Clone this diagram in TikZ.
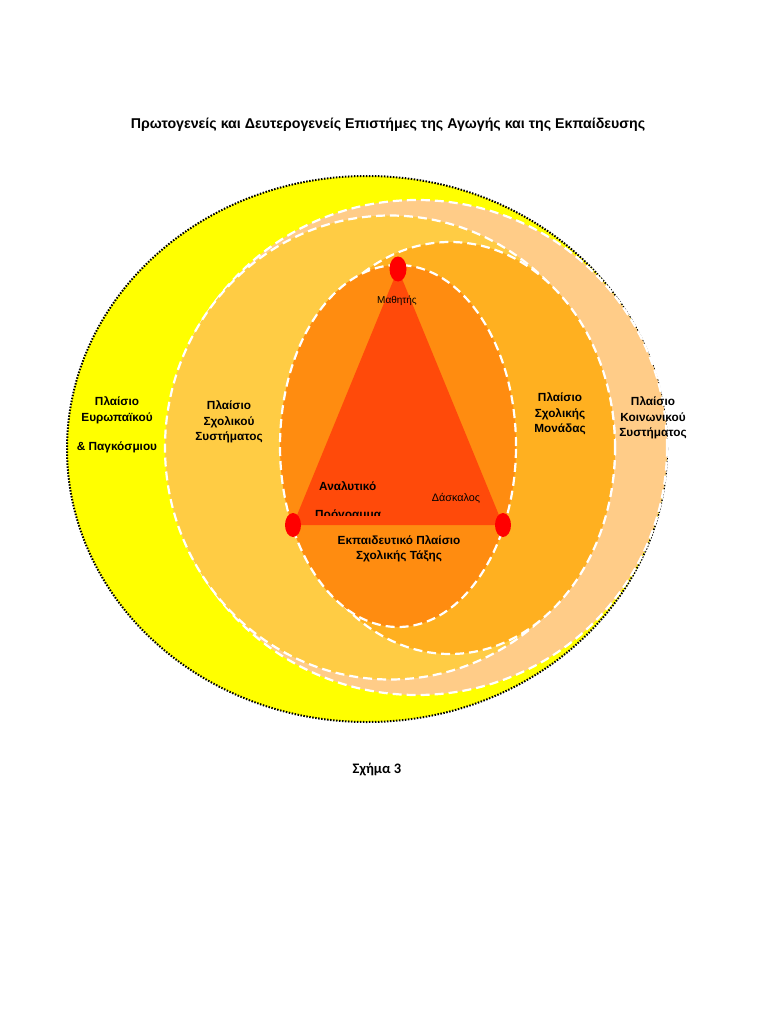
\documentclass[tikz,border=0pt]{standalone}
\usepackage{fontspec}
\setmainfont{Liberation Sans}
\newfontfamily\calfont{Carlito}
\usetikzlibrary{shapes.geometric}
\definecolor{cyel}{HTML}{FFFF00}
\definecolor{cpeach}{HTML}{FFCC88}
\definecolor{csys}{HTML}{FFCC44}
\definecolor{cunit}{HTML}{FFB020}
\definecolor{cclass}{HTML}{FF8C10}
\definecolor{ctri}{HTML}{FF4A0A}
\definecolor{cdot}{HTML}{FF0000}
\begin{document}
\begin{tikzpicture}[x=1pt,y=-1pt,
  lbl/.style={font=\bfseries\fontsize{11.8}{15.5}\selectfont, align=center, text=black, inner sep=0pt},
  small/.style={font=\fontsize{10}{12}\selectfont, text=black, inner sep=0pt},
  ring/.style={draw=white, line width=2.2pt, dash pattern=on 9pt off 5pt},
  vdot/.style={ellipse, fill=cdot, minimum width=16pt, minimum height=24pt, inner sep=0pt}
]
\useasboundingbox (0,0) rectangle (768,1024);
\fill[white] (0,0) rectangle (768,1024);
% outer yellow
\fill[cyel] (367,449) ellipse [x radius=300pt, y radius=273pt];
\draw[black, line width=2pt, dash pattern=on 1.5pt off 1.5pt] (367,449) ellipse [x radius=300pt, y radius=273pt];
% social system
\fill[cpeach] (417,447.5) ellipse [x radius=250pt, y radius=247.5pt];
\draw[ring] (417,447.5) ellipse [x radius=250pt, y radius=247.5pt];
% school system
\fill[csys] (390,447.5) ellipse [x radius=225pt, y radius=232pt];
\draw[ring] (390,447.5) ellipse [x radius=225pt, y radius=232pt];
% school unit
\fill[cunit] (450,448) ellipse [x radius=165pt, y radius=206pt];
\draw[ring] (450,448) ellipse [x radius=165pt, y radius=206pt];
% classroom
\fill[cclass] (398,446) ellipse [x radius=118pt, y radius=181pt];
\draw[ring] (398,446) ellipse [x radius=118pt, y radius=181pt];
% triangle
\coordinate (ta) at (398,269);
\coordinate (tl) at (293,525);
\coordinate (tr) at (503,525);
\fill[ctri] (ta) -- (tl) -- (tr) -- cycle;
\node[vdot, minimum width=17pt, minimum height=25pt] (da) at (ta) {};
\node[vdot] (dl) at (tl) {};
\node[vdot] (dr) at (tr) {};
% texts
\node[font=\bfseries\fontsize{14.2}{16}\selectfont, inner sep=0pt] (title) at (388,125) {Πρωτογενείς και Δευτερογενείς Επιστήμες της Αγωγής και της Εκπαίδευσης};
\node[lbl] (eur) at (117,425) {Πλαίσιο\\Ευρωπαϊκού\\[14pt]\& Παγκόσμιου};
\node[lbl] (sys) at (229,422) {Πλαίσιο\\Σχολικού\\Συστήματος};
\node[lbl] (unit) at (560,414) {Πλαίσιο\\Σχολικής\\Μονάδας};
\node[lbl] (soc) at (653,418) {Πλαίσιο\\Κοινωνικού\\Συστήματος};
\node[lbl] (cls) at (399,549) {Εκπαιδευτικό Πλαίσιο\\Σχολικής Τάξης};
\node[small] (stud) at (397,301) {Μαθητής};
\node[small, font=\fontsize{10.8}{12}\selectfont] (teach) at (456,498) {Δάσκαλος};
\node[lbl, anchor=base west] (cur1) at (319,490) {Αναλυτικό};
\begin{scope}
\clip (0,0) rectangle (768,515);
\node[lbl, anchor=base west] (cur2) at (315,518) {Πρόγραμμα};
\end{scope}
\node[font=\calfont\bfseries\fontsize{14.5}{16}\selectfont, inner sep=0pt] (fig) at (377,770) {Σχήμα 3};
\end{tikzpicture}
\end{document}
